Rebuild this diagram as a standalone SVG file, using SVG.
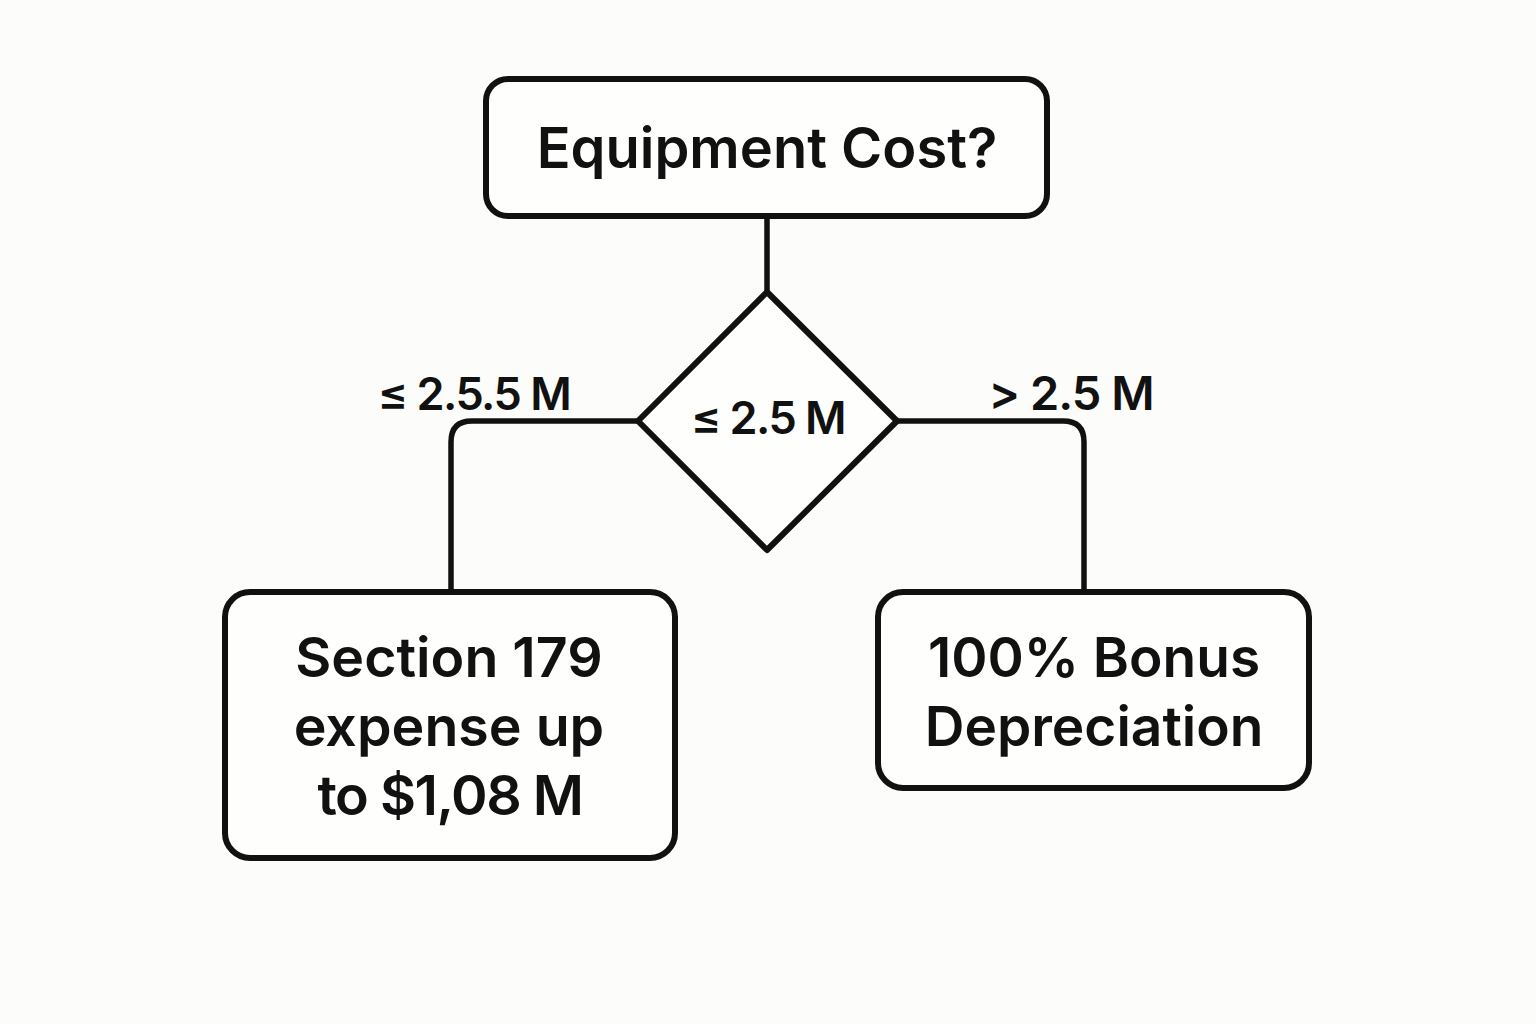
<svg xmlns="http://www.w3.org/2000/svg" width="1536" height="1024" viewBox="0 0 1536 1024">
<style>
.box{fill:#fefefc;stroke:#111;stroke-width:6;stroke-linejoin:round}
.con{fill:none;stroke:#111;stroke-width:5.5;stroke-linejoin:round;stroke-linecap:butt}
.t{font-family:Inter,"Noto Sans","DejaVu Sans",sans-serif;font-weight:600;fill:#111;text-anchor:middle}
</style>
<rect width="1536" height="1024" fill="#fcfcfa"/>
<g id="connectors">
<line class="con" x1="767" y1="216" x2="767" y2="292"/>
<path class="con" d="M638 421 H472 Q451 421 451 442 V592"/>
<path class="con" d="M897 421 H1063 Q1084 421 1084 442 V592"/>
</g>
<g id="labels">
<text class="t" x="474" y="410" font-size="45" letter-spacing="-1.5">≤ 2.5.5 M</text>
<text class="t" x="1071" y="410" font-size="47" letter-spacing="-1">&gt; 2.5 M</text>
</g>
<g id="start">
<rect class="box" x="486" y="79" width="561" height="137" rx="22"/>
<text class="t" x="767" y="168" font-size="56">Equipment Cost?</text>
</g>
<g id="decision">
<path class="box" d="M767 292 L897 421 L767 550 L638 421 Z"/>
<text class="t" x="768" y="434" font-size="45" letter-spacing="-1.5">≤ 2.5 M</text>
</g>
<g id="section179">
<rect class="box" x="225" y="592" width="450" height="266" rx="25"/>
<text class="t" x="449" y="677" font-size="55.5">Section 179</text>
<text class="t" x="449" y="746" font-size="55.5">expense up</text>
<text class="t" x="450" y="815" font-size="55.5" letter-spacing="-1.5">to $1,08 M</text>
</g>
<g id="bonus">
<rect class="box" x="878" y="592" width="431" height="196" rx="25"/>
<text class="t" x="1094" y="677" font-size="55">100% Bonus</text>
<text class="t" x="1094" y="746" font-size="55">Depreciation</text>
</g>
</svg>
